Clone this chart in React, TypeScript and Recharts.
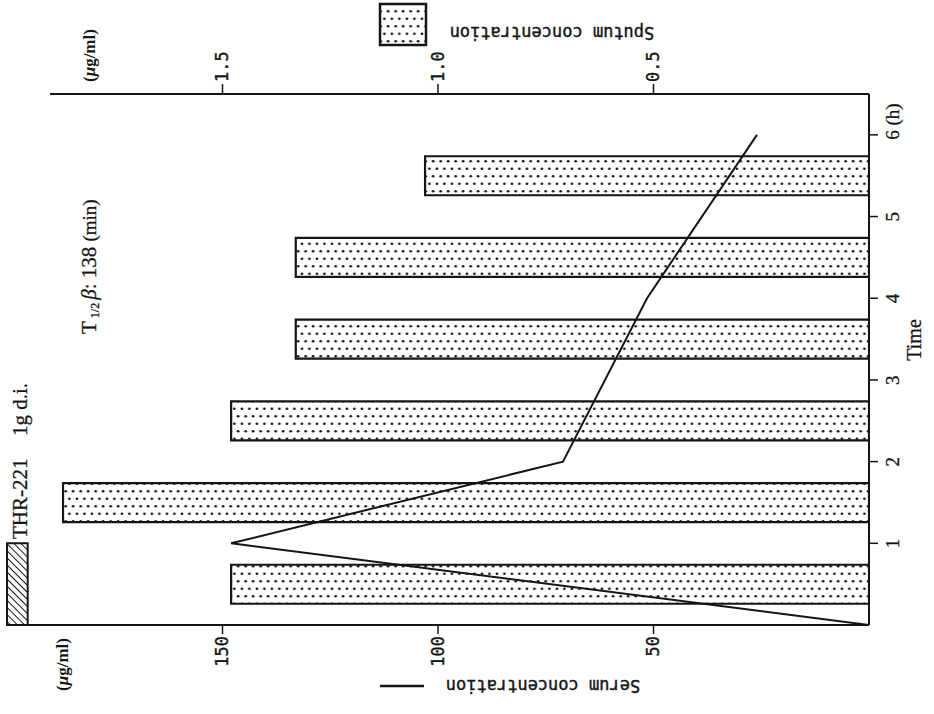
import { ComposedChart, Bar, Line, XAxis, YAxis, ReferenceArea, ReferenceLine } from "recharts";

// serum concentration (µg/ml), line
const serumHours = [0, 1, 2, 4, 6];
const serumValues = [0, 148, 71, 51.5, 26];
// sputum concentration (µg/ml), bars
const sputumHours = [0.5, 1.5, 2.5, 3.5, 4.5, 5.5];
const sputumValues = [1.48, 1.87, 1.48, 1.33, 1.33, 1.03];
// drip infusion period (h)
const infusionHours = [0, 1];

const hourTicks = [1, 2, 3, 4, 5, 6];
const serumTicks = [50, 100, 150];
const sputumTicks = [0.5, 1.0, 1.5];

const rows = [...new Set([...serumHours, ...sputumHours])]
  .sort((a, b) => a - b)
  .map((t) => ({
    t,
    serum: serumHours.includes(t) ? serumValues[serumHours.indexOf(t)] : null,
    sputum: sputumHours.includes(t) ? sputumValues[sputumHours.indexOf(t)] : null,
  }));

const INK = "#151515";
const MONO = "'DejaVu Sans Mono', monospace";
const SERIF = "'Liberation Serif', 'DejaVu Serif', serif";

function BottomTick({ x, y, payload }: any) {
  return (
    <text transform={`translate(${x},${y}) rotate(-90)`} textAnchor="end" dy="0.35em"
      fontFamily={MONO} fontSize={17} fill={INK} stroke={INK} strokeWidth={0.4}>
      {payload.value}
    </text>
  );
}

function TopTick({ x, y, payload }: any) {
  return (
    <text transform={`translate(${x},${y}) rotate(-90)`} textAnchor="start" dy="0.35em"
      fontFamily={MONO} fontSize={17} fill={INK} stroke={INK} strokeWidth={0.4}>
      {Number(payload.value).toFixed(1)}
    </text>
  );
}

function RightTick({ x, y, payload }: any) {
  const label = payload.value === 6 ? "6 (h)" : String(payload.value);
  return (
    <text transform={`translate(${x + 19},${y + 5}) rotate(-90)`} textAnchor="start"
      fontFamily={SERIF} fontSize={19} fill={INK} stroke={INK} strokeWidth={0.3}>
      {label}
    </text>
  );
}

function Patterns({ prefix }: { prefix: string }) {
  return (
    <defs>
      <pattern id={`${prefix}-dots`} width={7.5} height={15} patternUnits="userSpaceOnUse">
        <rect width={7.5} height={15} fill="#fff" />
        <circle cx={1.9} cy={3.75} r={1.35} fill={INK} />
        <circle cx={5.65} cy={11.25} r={1.35} fill={INK} />
      </pattern>
      <pattern id={`${prefix}-hatch`} width={5} height={5} patternUnits="userSpaceOnUse"
        patternTransform="rotate(-45)">
        <rect width={5} height={5} fill="#fff" />
        <line x1={0} y1={0} x2={0} y2={5} stroke={INK} strokeWidth={2} />
      </pattern>
    </defs>
  );
}

function Annotations() {
  return (
    <svg width={934} height={714}
      style={{ position: "absolute", left: 0, top: 0, pointerEvents: "none" }}>
      <Patterns prefix="ann" />
      {/* sputum legend (upside down) */}
      <rect x={380} y={4} width={46} height={41} fill="url(#ann-dots)" stroke={INK} strokeWidth={2.5} />
      <text transform="translate(552,33) rotate(180)" textAnchor="middle" dy="0.35em"
        fontFamily={MONO} fontSize={17} fill={INK} stroke={INK} strokeWidth={0.4}>
        Sputum concentration
      </text>
      {/* serum legend (upside down) */}
      <line x1={380} y1={686} x2={424} y2={686} stroke={INK} strokeWidth={2.5} />
      <text transform="translate(543,686) rotate(180)" textAnchor="middle" dy="0.35em"
        fontFamily={MONO} fontSize={17} fill={INK} stroke={INK} strokeWidth={0.4}>
        Serum concentration
      </text>
      {/* units */}
      <text transform="translate(89,82) rotate(-90)" textAnchor="start" dy="0.35em"
        fontFamily={SERIF} fontWeight="bold" fontSize={17} fill={INK}>
        (<tspan fontStyle="italic">μ</tspan>g/ml)
      </text>
      <text transform="translate(62,638) rotate(-90)" textAnchor="end" dy="0.35em"
        fontFamily={SERIF} fontWeight="bold" fontSize={17} fill={INK}>
        (<tspan fontStyle="italic">μ</tspan>g/ml)
      </text>
      {/* drug label */}
      <text transform="translate(27,539) rotate(-90)" fontFamily={SERIF} fontSize={21}
        fill={INK} stroke={INK} strokeWidth={0.3}>
        THR-221
      </text>
      <text transform="translate(27,436) rotate(-90)" fontFamily={SERIF} fontSize={21}
        fill={INK} stroke={INK} strokeWidth={0.3}>
        1g d.i.
      </text>
      <text transform="translate(96,334) rotate(-90)" fontFamily={SERIF} fontSize={21}
        fill={INK} stroke={INK} strokeWidth={0.3}>
        T
        <tspan fontSize={12} dy={3}>{"\u00a01/2\u00a0"}</tspan>
        <tspan dy={-3} fontStyle="italic">β</tspan>
        {": 138\u00a0"}
        <tspan fontSize={19}>(min)</tspan>
      </text>
      <text transform="translate(921,340) rotate(-90)" textAnchor="middle"
        fontFamily={SERIF} fontSize={20} fill={INK} stroke={INK} strokeWidth={0.3}>
        Time
      </text>
    </svg>
  );
}

export default function App() {
  return (
    <div style={{ position: "absolute", left: 0, top: 0, width: 934, height: 714, background: "#fff" }}>
      <ComposedChart
        width={934}
        height={714}
        data={rows}
        layout="vertical"
        margin={{ top: 0, right: 0, bottom: 0, left: 7 }}
      >
        <Patterns prefix="chart" />
        <XAxis
          xAxisId="serum"
          type="number"
          domain={[0, 200]}
          reversed
          allowDataOverflow
          ticks={serumTicks}
          height={89}
          tickSize={9}
          tickMargin={2}
          axisLine={{ stroke: INK, strokeWidth: 2 }}
          tickLine={{ stroke: INK, strokeWidth: 1.5 }}
          tick={BottomTick}
        />
        <XAxis
          xAxisId="sputum"
          orientation="top"
          type="number"
          domain={[0, 2]}
          reversed
          allowDataOverflow
          ticks={sputumTicks}
          height={94}
          tickSize={10}
          tickMargin={2}
          axisLine={false}
          tickLine={{ stroke: INK, strokeWidth: 1.5 }}
          tick={TopTick}
        />
        <YAxis
          dataKey="t"
          type="number"
          orientation="right"
          domain={[0, 6.5]}
          reversed
          allowDataOverflow
          ticks={hourTicks}
          width={65}
          tickSize={9}
          tickMargin={2}
          axisLine={{ stroke: INK, strokeWidth: 2 }}
          tickLine={{ stroke: INK, strokeWidth: 1.5 }}
          tick={RightTick}
        />
        <ReferenceLine
          xAxisId="serum"
          segment={[{ x: 190, y: 6.5 }, { x: 0, y: 6.5 }]}
          stroke={INK}
          strokeWidth={2}
          ifOverflow="visible"
        />
        <ReferenceArea
          xAxisId="serum"
          x1={200}
          x2={195.2}
          y1={infusionHours[0]}
          y2={infusionHours[1]}
          fill="url(#chart-hatch)"
          fillOpacity={1}
          stroke={INK}
          strokeWidth={2}
          ifOverflow="visible"
        />
        <Bar
          dataKey="sputum"
          xAxisId="sputum"
          barSize={39}
          fill="url(#chart-dots)"
          stroke={INK}
          strokeWidth={2.2}
          isAnimationActive={false}
        />
        <Line
          dataKey="serum"
          xAxisId="serum"
          type="linear"
          stroke={INK}
          strokeWidth={2}
          dot={false}
          connectNulls
          isAnimationActive={false}
        />
      </ComposedChart>
      <Annotations />
    </div>
  );
}
